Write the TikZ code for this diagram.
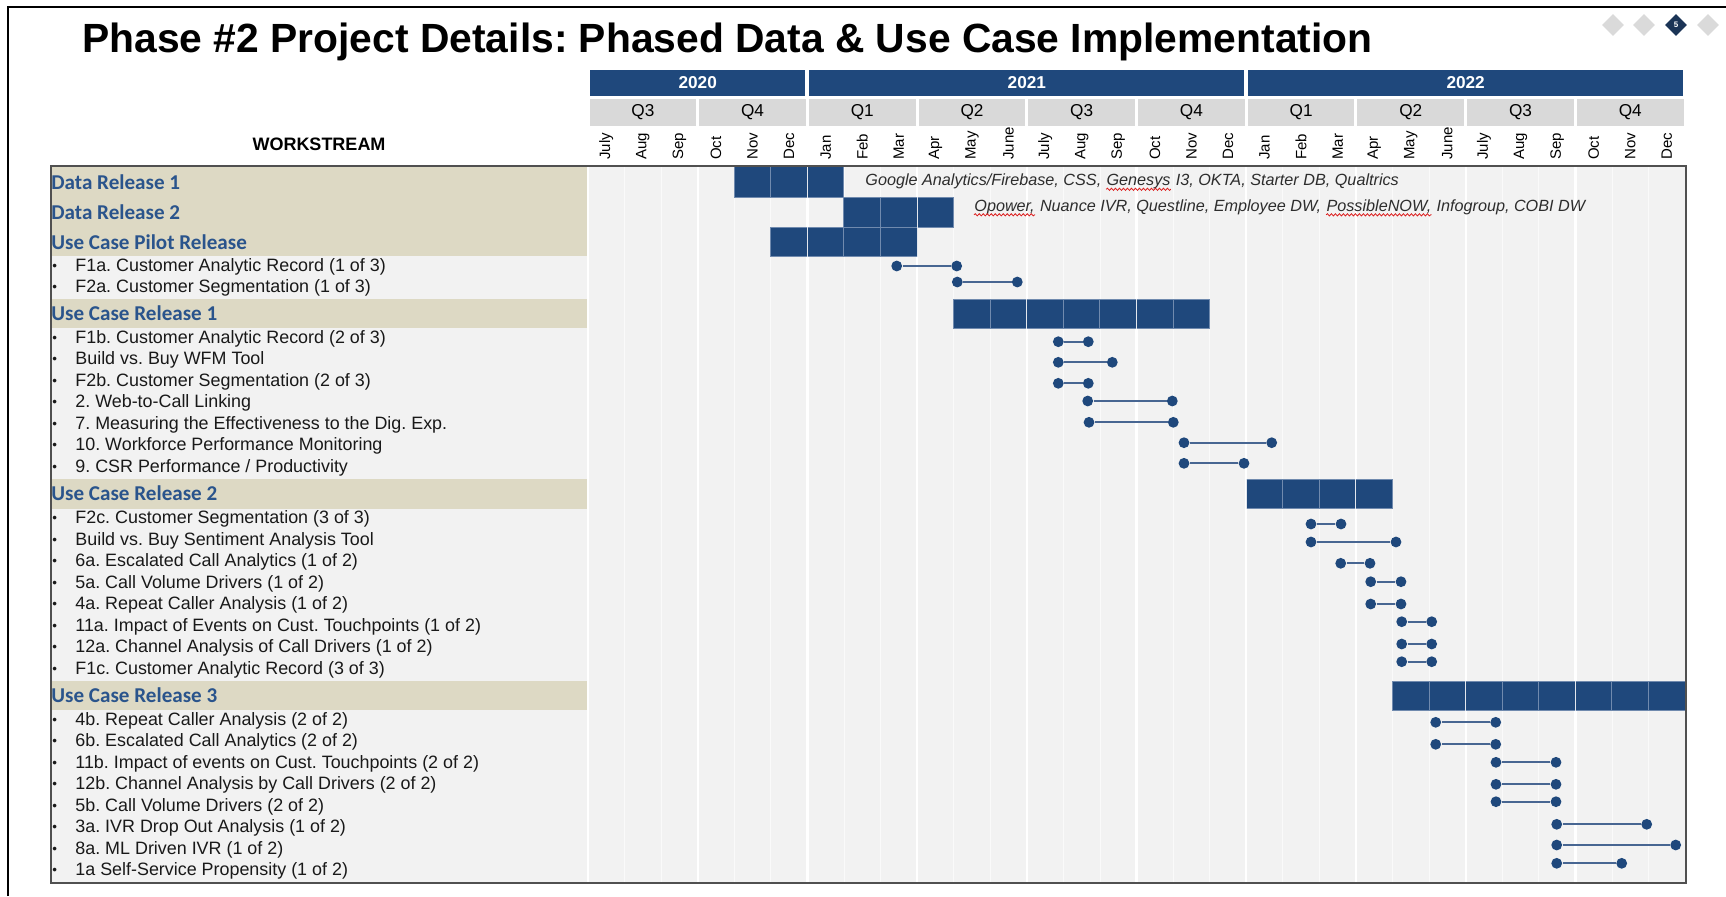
\documentclass[tikz,border=0pt]{standalone}
\usepackage{fontspec}
\setmainfont{Liberation Sans}
\newfontfamily\calib{Carlito}
\usetikzlibrary{shapes.geometric,decorations.pathmorphing}
\frenchspacing

\definecolor{navy}{RGB}{31,72,124}
\definecolor{cellline}{RGB}{112,138,174}
\definecolor{linkblue}{RGB}{72,102,146}
\definecolor{headblue}{RGB}{42,84,140}
\definecolor{tanband}{RGB}{221,217,196}
\definecolor{bodygray}{RGB}{242,242,242}
\definecolor{qgray}{RGB}{217,217,217}
\definecolor{framegray}{RGB}{80,80,80}
\definecolor{notegray}{RGB}{45,45,45}
\definecolor{spell}{RGB}{220,30,30}
\definecolor{diagray}{RGB}{218,218,218}
\definecolor{dianavy}{RGB}{27,52,86}

% bullet column in front of each work item
\newcommand\bul{\makebox[11.5pt][l]{\raisebox{0.5pt}{\scalebox{0.75}{\textbullet}}}}
% milestone: two dots joined by a line
\newcommand\milestone[4]{%
  \node[dot] (#1s) at (#2,#4) {};
  \node[dot] (#1e) at (#3,#4) {};
  \draw[link] (#1s) -- (#1e);}
% red wavy spell-check mark under a word node
\newcommand\spellmark[1]{%
  \draw[spellwave] ([yshift=-1.9pt]#1.base west) -- ([yshift=-1.9pt]#1.base east);}

\begin{document}
\begin{tikzpicture}[x=0.5pt,y=-0.5pt,
  item/.style={anchor=west,inner sep=0pt,font=\fontsize{8.95}{10}\selectfont,text=black!90},
  sect/.style={anchor=west,inner sep=0pt,font=\calib\bfseries\fontsize{10.55}{12}\selectfont,text=headblue},
  note/.style={anchor=base west,inner sep=0pt,font=\itshape\fontsize{8.1}{10}\selectfont,text=notegray},
  month/.style={rotate=90,anchor=west,inner sep=0.4pt,font=\fontsize{7.5}{9}\selectfont},
  qlab/.style={inner sep=0pt,font=\fontsize{8.6}{10}\selectfont},
  ylab/.style={inner sep=0pt,text=white,font=\bfseries\fontsize{8.6}{10}\selectfont},
  dot/.style={circle,fill=navy,inner sep=0pt,minimum size=5.4pt},
  link/.style={draw=linkblue,line width=1pt},
  cell/.style={fill=navy,draw=cellline,line width=0.5pt},
  qline/.style={draw=white,line width=1.1pt},
  mline/.style={draw=white!60!bodygray,line width=0.4pt},
  spellwave/.style={draw=spell,line width=0.4pt,decorate,decoration={snake,amplitude=0.55pt,segment length=2pt}},
  dia/.style={diamond,inner sep=0pt,minimum width=11pt,minimum height=11pt}]

\useasboundingbox (0,0) rectangle (1726,896);
\fill[white] (0,0) rectangle (1726,896);
\draw[line width=0.7pt] (8,896) -- (8,7) -- (1726,7);

% title and page markers
\node[anchor=base west,inner sep=0pt,font=\bfseries\fontsize{20.4}{24}\selectfont] (title)
  at (82,52) {Phase \#2 Project Details: Phased Data \& Use Case Implementation};
\node[dia,fill=diagray] (d1) at (1613,25) {};
\node[dia,fill=diagray] (d2) at (1644,25) {};
\node[dia,fill=dianavy,text=white,font=\bfseries\fontsize{4}{4}\selectfont] (d3) at (1676,25) {5};
\node[dia,fill=diagray] (d4) at (1708,25) {};

% timeline header
\foreach \a/\b/\yr in {0/6/2020,6/18/2021,18/30/2022}{
  \fill[navy] ({588+\a*36.57+1.5},69.5) rectangle ({588+\b*36.57-2},96);
  \node[ylab] (y\yr) at ({588+(\a+\b)/2*36.57},82.7) {\yr};
}
\foreach \q [count=\k from 0] in {Q3,Q4,Q1,Q2,Q3,Q4,Q1,Q2,Q3,Q4}{
  \fill[qgray] ({588+3*\k*36.57+1.5},99) rectangle ({588+3*(\k+1)*36.57-1.5},125.5);
  \node[qlab] (q\k) at ({588+(3*\k+1.5)*36.57},112.5) {\q};
}
\foreach \nm [count=\i from 0] in {July,Aug,Sep,Oct,Nov,Dec,Jan,Feb,Mar,Apr,May,June,July,Aug,Sep,Oct,Nov,Dec,Jan,Feb,Mar,Apr,May,June,July,Aug,Sep,Oct,Nov,Dec}{
  \node[month] (m\i) at ({588+(\i+0.5)*36.57},161) {\nm};
}
\node[inner sep=0pt,font=\bfseries\fontsize{9}{11}\selectfont] (ws) at (319,144) {WORKSTREAM};

% chart body
\fill[bodygray] (51,166) rectangle (1686,883);
\fill[tanband] (51,166) rectangle (587,256);
\fill[tanband] (51,299) rectangle (587,328);
\fill[tanband] (51,478.5) rectangle (587,508.5);
\fill[tanband] (51,680.5) rectangle (587,710);
\foreach \m in {1,...,29}{
  \pgfmathtruncatemacro\r{mod(\m,3)}
  \ifnum\r=0
    \draw[qline] ({588+\m*36.57},166) -- ({588+\m*36.57},883);
  \else
    \draw[mline] ({588+\m*36.57},166) -- ({588+\m*36.57},883);
  \fi
}
\draw[qline] (588,166) -- (588,883);

% release bars, one cell per month
\foreach \a/\b/\ya/\yb in {4/6/166/197,7/9/197/227,5/8/227/256,10/16/299/328,18/21/479/508.5,22/29/681/710}{
  \foreach \m in {\a,...,\b}{
    \draw[cell] ({588+\m*36.57},\ya) rectangle ({588+(\m+1)*36.57},\yb);
  }
}
\foreach \m in {3,6,...,27}{
  \draw[draw=white,line width=0.5pt,opacity=0.8] ({588+\m*36.57},166) -- ({588+\m*36.57},883);
}
\draw[framegray,line width=1pt] (51,166) rectangle (1686,883);

% data sources
\node[note] (n1a) at (865,185.5) {Google Analytics/Firebase, CSS,};
\node[note] (n1b) at ([xshift=2.25pt]n1a.base east) {Genesys};
\node[note] (n1c) at ([xshift=2.25pt]n1b.base east) {I3, OKTA, Starter DB, Qualtrics};
\node[note] (n2a) at (974,211) {Opower,};
\node[note] (n2b) at ([xshift=2.25pt]n2a.base east) {Nuance IVR, Questline, Employee DW,};
\node[note] (n2c) at ([xshift=2.25pt]n2b.base east) {PossibleNOW,};
\node[note] (n2d) at ([xshift=2.25pt]n2c.base east) {Infogroup, COBI DW};
\spellmark{n1b}
\spellmark{n2a}
\spellmark{n2c}

% workstreams
\node[sect] (s1) at (51,182) {Data Release 1};
\node[sect] (s2) at (51,212.5) {Data Release 2};
\node[sect] (s3) at (51,242) {Use Case Pilot Release};
\node[item] (w1) at (52,266.75) {\bul F1a. Customer Analytic Record (1 of 3)};
\node[item] (w2) at (52,288.25) {\bul F2a. Customer Segmentation (1 of 3)};
\node[sect] (s4) at (51,313.5) {Use Case Release 1};
\node[item] (w3) at (52,338.75) {\bul F1b. Customer Analytic Record (2 of 3)};
\node[item] (w4) at (52,360.25) {\bul Build vs. Buy WFM Tool};
\node[item] (w5) at (52,381.75) {\bul F2b. Customer Segmentation (2 of 3)};
\node[item] (w6) at (52,403.25) {\bul 2. Web-to-Call Linking};
\node[item] (w7) at (52,424.75) {\bul 7. Measuring the Effectiveness to the Dig. Exp.};
\node[item] (w8) at (52,446.25) {\bul 10. Workforce Performance Monitoring};
\node[item] (w9) at (52,467.75) {\bul 9. CSR Performance / Productivity};
\node[sect] (s5) at (51,493.5) {Use Case Release 2};
\node[item] (w10) at (52,519.25) {\bul F2c. Customer Segmentation (3 of 3)};
\node[item] (w11) at (52,540.75) {\bul Build vs. Buy Sentiment Analysis Tool};
\node[item] (w12) at (52,562.25) {\bul 6a. Escalated Call Analytics (1 of 2)};
\node[item] (w13) at (52,583.75) {\bul 5a. Call Volume Drivers (1 of 2)};
\node[item] (w14) at (52,605.25) {\bul 4a. Repeat Caller Analysis (1 of 2)};
\node[item] (w15) at (52,626.75) {\bul 11a. Impact of Events on Cust. Touchpoints (1 of 2)};
\node[item] (w16) at (52,648.25) {\bul 12a. Channel Analysis of Call Drivers (1 of 2)};
\node[item] (w17) at (52,669.75) {\bul F1c. Customer Analytic Record (3 of 3)};
\node[sect] (s6) at (51,695.3) {Use Case Release 3};
\node[item] (w18) at (52,720.75) {\bul 4b. Repeat Caller Analysis (2 of 2)};
\node[item] (w19) at (52,742.25) {\bul 6b. Escalated Call Analytics (2 of 2)};
\node[item] (w20) at (52,763.75) {\bul 11b. Impact of events on Cust. Touchpoints (2 of 2)};
\node[item] (w21) at (52,785.25) {\bul 12b. Channel Analysis by Call Drivers (2 of 2)};
\node[item] (w22) at (52,806.75) {\bul 5b. Call Volume Drivers (2 of 2)};
\node[item] (w23) at (52,828.25) {\bul 3a. IVR Drop Out Analysis (1 of 2)};
\node[item] (w24) at (52,849.75) {\bul 8a. ML Driven IVR (1 of 2)};
\node[item] (w25) at (52,871.25) {\bul 1a Self-Service Propensity (1 of 2)};

% milestones
\milestone{a1}{896.7}{956.7}{266}
\milestone{a2}{957.3}{1017.3}{282}
\milestone{b1}{1058.3}{1088.3}{341.7}
\milestone{b2}{1058.3}{1112.3}{362.3}
\milestone{b3}{1058.3}{1088.3}{383.3}
\milestone{b4}{1087.7}{1172.3}{401}
\milestone{b5}{1089}{1173.3}{422.3}
\milestone{b6}{1184}{1271.7}{442.7}
\milestone{b7}{1184}{1244}{463.3}
\milestone{c1}{1311}{1341}{524}
\milestone{c2}{1311}{1396}{542}
\milestone{c3}{1340.7}{1370}{563.3}
\milestone{c4}{1370.7}{1401}{581.7}
\milestone{c5}{1370.7}{1401}{604}
\milestone{c6}{1401.7}{1431.7}{621.7}
\milestone{c7}{1401.7}{1431.7}{644}
\milestone{c8}{1401.7}{1431.7}{661.7}
\milestone{e1}{1435.7}{1495.7}{722.3}
\milestone{e2}{1435.7}{1495.7}{744.3}
\milestone{e3}{1496}{1556}{762.3}
\milestone{e4}{1496}{1556}{784.3}
\milestone{e5}{1496}{1556}{801.7}
\milestone{e6}{1556.7}{1646.7}{824.3}
\milestone{e7}{1556.7}{1675.7}{845}
\milestone{e8}{1556.7}{1621.7}{863.3}
\end{tikzpicture}
\end{document}
